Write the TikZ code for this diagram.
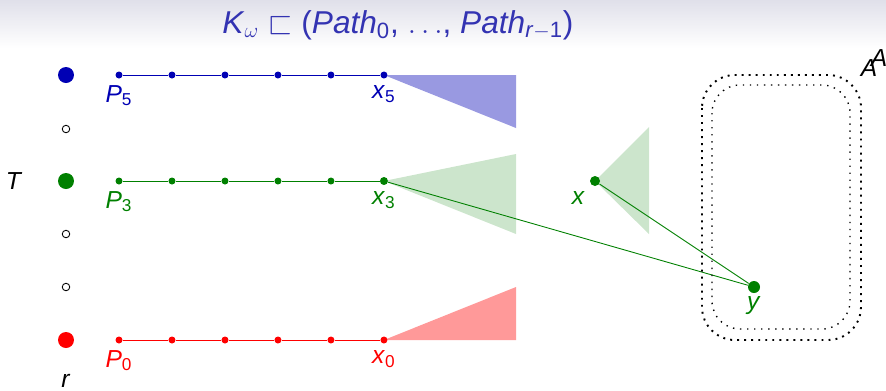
\documentclass[tikz,border=0pt]{standalone}
\usepackage{amsmath,amssymb}
\usepackage{fontspec}
\setmainfont{Liberation Sans}
\usetikzlibrary{positioning,backgrounds}
\definecolor{pblue}{RGB}{0,0,180}
\definecolor{pgreen}{RGB}{0,128,0}
\definecolor{pred}{RGB}{255,0,0}
\definecolor{titleblue}{RGB}{51,51,178}
\definecolor{titlebg}{RGB}{224,224,234}
\newcommand{\lab}[2]{\textit{#1}\textsubscript{#2}}

\begin{document}
\begin{tikzpicture}
    [x=0.02cm, y=-0.02cm,
        node distance =1.06cm,
    line width=0.5pt,
    font=\fontsize{14}{17}\selectfont,
    vertex/.style={inner sep=0pt, circle, minimum size=0.14cm},
    root/.style={inner sep=0pt, circle, minimum size=0.32cm},
    hole/.style={inner sep=0pt, circle, draw=black, line width=0.5pt, minimum size=0.15cm},
    bigdots/.style={line width=1.1pt, dash pattern=on 1.1pt off 2.9pt},
    smalldots/.style={line width=0.8pt, dash pattern=on 0.8pt off 3.2pt}]
        \useasboundingbox (0,0) rectangle (886,390);
        \shade[top color=titlebg, bottom color=white] (0,0) rectangle (886,48);
        \node[text=titleblue, font=\fontsize{18}{22}\selectfont] (title) at (398,25) {\lab{K}{$\omega$} $\sqsubset$ (\lab{Path}{0}, $\ldots$, \lab{Path}{\textit{r}$-$1})};

        \node[root, fill=pblue] (T5) at (66,75) {};
        \node[hole] (T4) at (66,129) {};
        \node[root, fill=pgreen] (T3) at (66,181) {};
        \node[hole] (T2) at (66,234) {};
        \node[hole] (T1) at (66,287) {};
        \node[root, fill=pred, label={[label distance=0.4cm]below:\textit{r}}] (T0) at (66,340) {};
        \node (T) at (14,181) {\textit{T}};

        \node[vertex, fill=pblue, label={[text=pblue]below:\lab{P}{5}}] (B0) at (119,75) {};
        \node[vertex, fill=pblue, right of = B0] (B1) {};
        \node[vertex, fill=pblue, right of = B1] (B2) {};
        \node[vertex, fill=pblue, right of = B2] (B3) {};
        \node[vertex, fill=pblue, right of = B3] (B4) {};
        \node[vertex, fill=pblue, right of = B4, label={[text=pblue]below:\lab{x}{5}}] (B5) {};

        \node[vertex, fill=pgreen, label={[text=pgreen]below:\lab{P}{3}}] (G0) at (119,181) {};
        \node[vertex, fill=pgreen, right of = G0] (G1) {};
        \node[vertex, fill=pgreen, right of = G1] (G2) {};
        \node[vertex, fill=pgreen, right of = G2] (G3) {};
        \node[vertex, fill=pgreen, right of = G3] (G4) {};
        \node[vertex, fill=pgreen, right of = G4, minimum size=0.16cm, label={[text=pgreen]below:\lab{x}{3}}] (G5) {};

        \node[vertex, fill=pred, label={[text=pred]below:\lab{P}{0}}] (R0) at (119,340) {};
        \node[vertex, fill=pred, right of = R0] (R1) {};
        \node[vertex, fill=pred, right of = R1] (R2) {};
        \node[vertex, fill=pred, right of = R2] (R3) {};
        \node[vertex, fill=pred, right of = R3] (R4) {};
        \node[vertex, fill=pred, right of = R4, label={[text=pred]below:\lab{x}{0}}] (R5) {};

        \node[vertex, fill=pgreen, minimum size=0.2cm, label={[text=pgreen]below left:\textit{x}}] (X) at (595,181) {};
        \node[vertex, fill=pgreen, minimum size=0.24cm, label={[text=pgreen, label distance=-2pt]below:\textit{y}}] (Y) at (754,287) {};

        \begin{scope}[on background layer]
        \fill[pblue!40] (B5.center) -- (516,75) -- (516,128) -- cycle;
        \fill[pgreen!20] (G5.center) -- (516,154) -- (516,234) -- cycle;
        \fill[pred!40] (R5.center) -- (516,287) -- (516,340) -- cycle;
        \fill[pgreen!20] (X.center) -- (649,127) -- (649,234) -- cycle;
        \end{scope}

        \draw[pblue] (B0) -- (B1) -- (B2) -- (B3) -- (B4) -- (B5);
        \draw[pgreen] (G0) -- (G1) -- (G2) -- (G3) -- (G4) -- (G5);
        \draw[pred] (R0) -- (R1) -- (R2) -- (R3) -- (R4) -- (R5);
        \draw[pgreen] (G5) -- (Y);
        \draw[pgreen] (X) -- (Y);

        \draw[bigdots, rounded corners=0.66cm] (702,75) rectangle (861,340);
        \draw[smalldots, rounded corners=0.56cm] (712,85) rectangle (850,329);
        \node (A1) at (869,68) {\textit{A}};
        \node (A2) at (879,58) {\textit{A}};
   \end{tikzpicture}
\end{document}
